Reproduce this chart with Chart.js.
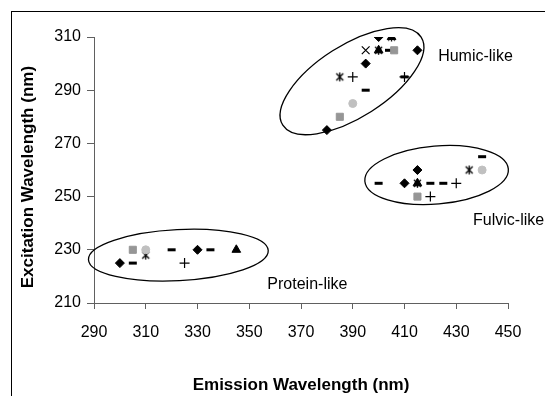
<!DOCTYPE html>
<html>
<head>
<meta charset="utf-8">
<script src="https://cdn.jsdelivr.net/npm/chart.js@4.4.0/dist/chart.umd.min.js"></script>
<style>
  html, body { margin: 0; padding: 0; background: #fff; }
  #wrap { position: relative; width: 545px; height: 396px; overflow: hidden; background: #fff; }
  #frame { position: absolute; left: 11px; top: 11px; width: 620px; height: 420px;
           border-left: 1px solid #000; border-top: 1px solid #000; }
  canvas { position: absolute; left: 0; top: 0; }
</style>
</head>
<body>
<div id="wrap">
  <div id="frame"></div>
  <canvas id="eemChart" width="545" height="396"></canvas>
</div>
<script>
// fluorescence peaks, emission (x) / excitation (y) in nm, one list per marker
const diamondEm = [400, 415, 395, 380, 415, 410, 330, 300];
const diamondEx = [310, 305, 300, 275, 260, 255, 230, 225];
const squareEm = [406, 385, 415, 305];
const squareEx = [305, 280, 250, 230];
const triangleEm = [405, 400, 415, 345];
const triangleEx = [310, 305, 255, 230];
const xMarkEm = [395];
const xMarkEx = [305];
const asteriskEm = [405, 400, 385, 435, 415, 310];
const asteriskEx = [310, 305, 295, 260, 255, 228];
const circleEm = [390, 440, 310];
const circleEx = [285, 260, 230];
const plusEm = [390, 410, 430, 420, 325];
const plusEx = [295, 295, 255, 250, 225];
const dashEm = [404, 395, 410, 440, 400, 420, 425, 320, 335, 305];
const dashEx = [305, 290, 295, 265, 255, 255, 255, 230, 230, 225];

const xTicks = [290, 310, 330, 350, 370, 390, 410, 430, 450];
const yTicks = [210, 230, 250, 270, 290, 310];

const regionNames = ['Humic-like', 'Fulvic-like', 'Protein-like'];

const toPoints = (em, ex) => em.map((v, i) => ({ x: v, y: ex[i] }));

// excel style asterisk: X with a vertical bar
const asterisk = document.createElement('canvas');
asterisk.width = 11;
asterisk.height = 11;
(() => {
  const c = asterisk.getContext('2d');
  c.strokeStyle = '#000';
  c.lineWidth = 1.3;
  c.beginPath();
  c.moveTo(5.5, 1); c.lineTo(5.5, 10);
  c.moveTo(2, 2); c.lineTo(9, 9);
  c.moveTo(9, 2); c.lineTo(2, 9);
  c.stroke();
})();

// ellipses round the three regions: centre in nm, half axes in px, tilt in degrees
const regions = [
  { cx: 389.7, cy: 293.4, a: 82, b: 36, tilt: 32.5, label: regionNames[0], lx: 423, ly: 302.5 },
  { cx: 422.4, cy: 258.1, a: 72, b: 29, tilt: 4.9, label: regionNames[1], lx: 436.5, ly: 241 },
  { cx: 322.6, cy: 228.0, a: 90, b: 25.5, tilt: 2.9, label: regionNames[2], lx: 357, ly: 217 },
];

const regionPlugin = {
  id: 'regions',
  afterDraw(chart) {
    const { ctx, scales: { x, y } } = chart;
    ctx.save();
    ctx.strokeStyle = '#000';
    ctx.lineWidth = 1.3;
    ctx.fillStyle = '#000';
    ctx.font = '16px "Liberation Sans", Arial, sans-serif';
    ctx.textBaseline = 'middle';
    ctx.textAlign = 'left';
    regions.forEach(r => {
      ctx.beginPath();
      ctx.ellipse(x.getPixelForValue(r.cx), y.getPixelForValue(r.cy), r.a, r.b,
        -r.tilt * Math.PI / 180, 0, Math.PI * 2);
      ctx.stroke();
      ctx.fillText(r.label, x.getPixelForValue(r.lx), y.getPixelForValue(r.ly));
    });
    ctx.restore();
  }
};

const mk = (em, ex, style, color, radius, bw) => ({
  data: toPoints(em, ex),
  pointStyle: style,
  pointRadius: radius,
  pointBackgroundColor: color,
  pointBorderColor: color,
  pointBorderWidth: bw,
  showLine: false,
});

const tickFont = { family: '"Liberation Sans", Arial, sans-serif', size: 16 };
const titleFont = { family: '"Liberation Sans", Arial, sans-serif', size: 17, weight: 'bold' };

new Chart(document.getElementById('eemChart'), {
  type: 'scatter',
  data: {
    // first dataset is drawn on top
    datasets: [
      mk(circleEm, circleEx, 'circle', '#c0c0c0', 4, 1),
      mk(squareEm, squareEx, 'rect', '#969696', 5, 1),
      mk(dashEm, dashEx, 'line', '#000', 4, 3),
      mk(asteriskEm, asteriskEx, asterisk, '#000', 5, 1),
      mk(triangleEm, triangleEx, 'triangle', '#000', 5, 1),
      mk(xMarkEm, xMarkEx, 'crossRot', '#000', 5.5, 1.2),
      mk(plusEm, plusEx, 'cross', '#000', 5, 1.2),
      mk(diamondEm, diamondEx, 'rectRot', '#000', 4.5, 1),
    ]
  },
  options: {
    responsive: false,
    animation: false,
    layout: { padding: { top: 37, right: 37, left: 0, bottom: 0 } },
    plugins: { legend: { display: false }, tooltip: { enabled: false } },
    scales: {
      x: {
        type: 'linear',
        min: xTicks[0],
        max: xTicks[xTicks.length - 1],
        afterBuildTicks: s => { s.ticks = xTicks.map(v => ({ value: v })); },
        afterFit: s => { s.height = 93; },
        ticks: { font: tickFont, color: '#000', padding: 14, maxRotation: 0 },
        grid: { drawOnChartArea: false, drawTicks: true, tickLength: 6, color: '#606060' },
        border: { color: '#606060' },
        title: { display: true, text: 'Emission Wavelength (nm)', font: titleFont, color: '#000',
                 padding: { top: 0, bottom: 0 } },
      },
      y: {
        type: 'linear',
        min: yTicks[0],
        max: yTicks[yTicks.length - 1],
        afterBuildTicks: s => { s.ticks = yTicks.map(v => ({ value: v })); },
        afterFit: s => { s.width = 94; },
        ticks: { font: tickFont, color: '#000', padding: 6 },
        grid: { drawOnChartArea: false, drawTicks: true, tickLength: 7, color: '#606060' },
        border: { color: '#606060' },
        // trailing spaces push the title a little below the plot's middle, as in the original
        title: { display: true, text: 'Excitation Wavelength (nm)   ', font: titleFont, color: '#000',
                 padding: { top: 18, bottom: 0 } },
      }
    }
  },
  plugins: [regionPlugin]
});
</script>
</body>
</html>
